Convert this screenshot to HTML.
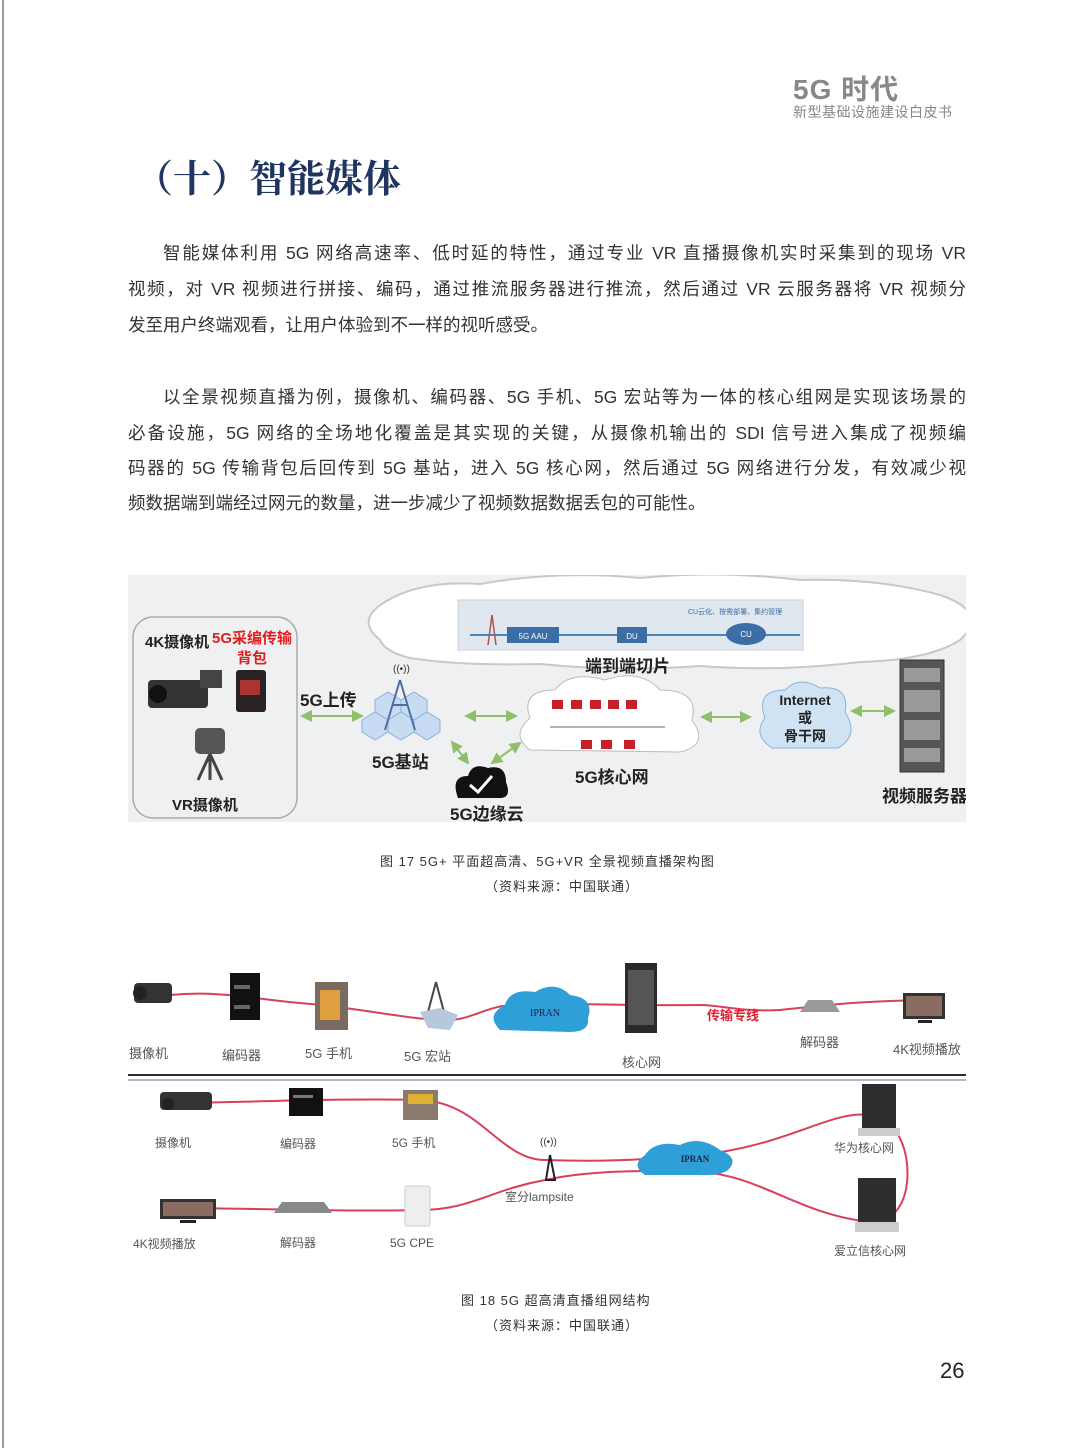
<!DOCTYPE html>
<html><head><meta charset="utf-8"><style>
body{margin:0;background:#fff}
#p{position:relative;width:1067px;height:1448px;overflow:hidden;background:#fff;font-family:"Liberation Sans","Noto Sans CJK SC",sans-serif}
.l{position:absolute;font-size:17.5px;color:#333;text-align:justify;text-align-last:justify;white-space:nowrap;height:24px;line-height:24px}
.c{position:absolute;font-size:13px;color:#333;letter-spacing:1px;white-space:nowrap}
</style></head><body><div id="p">
<div style="position:absolute;left:2px;top:0;width:2px;height:1448px;background:#999"></div>
<div style="position:absolute;left:793px;top:68px;font-size:28px;color:#888;font-weight:bold;letter-spacing:1px">5G 时代</div>
<div style="position:absolute;left:793px;top:102px;font-size:14px;color:#888;letter-spacing:0.5px">新型基础设施建设白皮书</div>
<div style="position:absolute;left:135px;top:148px;font-size:38px;color:#1f3461;font-weight:bold;font-family:'Noto Serif CJK SC','Liberation Serif',serif">（十）智能媒体</div>

<div class="l" style="left:163px;top:241px;width:803px">智能媒体利用 5G 网络高速率、低时延的特性，通过专业 VR 直播摄像机实时采集到的现场 VR</div>
<div class="l" style="left:128px;top:277px;width:838px">视频，对 VR 视频进行拼接、编码，通过推流服务器进行推流，然后通过 VR 云服务器将 VR 视频分</div>
<div class="l" style="left:128px;top:313px;text-align-last:left">发至用户终端观看，让用户体验到不一样的视听感受。</div>
<div class="l" style="left:163px;top:385px;width:803px">以全景视频直播为例，摄像机、编码器、5G 手机、5G 宏站等为一体的核心组网是实现该场景的</div>
<div class="l" style="left:128px;top:421px;width:838px">必备设施，5G 网络的全场地化覆盖是其实现的关键，从摄像机输出的 SDI 信号进入集成了视频编</div>
<div class="l" style="left:128px;top:456px;width:838px">码器的 5G 传输背包后回传到 5G 基站，进入 5G 核心网，然后通过 5G 网络进行分发，有效减少视</div>
<div class="l" style="left:128px;top:491px;text-align-last:left">频数据端到端经过网元的数量，进一步减少了视频数据数据丢包的可能性。</div>

<div class="c" style="left:380px;top:851px">图 17 5G+ 平面超高清、5G+VR 全景视频直播架构图</div>
<div class="c" style="left:485px;top:876px">（资料来源：中国联通）</div>
<div class="c" style="left:461px;top:1290px">图 18 5G 超高清直播组网结构</div>
<div class="c" style="left:485px;top:1315px">（资料来源：中国联通）</div>
<div style="position:absolute;left:940px;top:1358px;font-size:22px;color:#222">26</div>

<svg width="1067" height="1448" style="position:absolute;left:0;top:0" font-family="Liberation Sans, Noto Sans CJK SC, sans-serif">
<defs><marker id="a" markerWidth="6" markerHeight="6" refX="5" refY="3" orient="auto-start-reverse"><path d="M0,0L6,3L0,6z" fill="#8fbf6a"/></marker>
<clipPath id="cl"><rect x="128" y="575" width="838" height="247"/></clipPath></defs>
<g clip-path="url(#cl)">
<rect x="128" y="575" width="838" height="247" fill="#eef0f2"/>
<path d="M380,640 Q355,620 385,602 Q420,580 480,584 Q560,570 640,578 Q720,570 800,580 Q880,578 940,595 Q990,612 960,640 Q930,660 860,662 Q780,672 700,666 Q620,672 540,664 Q460,666 410,658 Q385,652 380,640 Z" fill="#fff" stroke="#c8c8c8" stroke-width="2"/>
<rect x="458" y="600" width="345" height="50" fill="#e1e7ef" stroke="#c9d2de"/>
<line x1="470" y1="635" x2="800" y2="635" stroke="#4a86c0" stroke-width="2"/>
<path d="M488,645 L492,615 L496,645" fill="none" stroke="#a55" stroke-width="1.5"/>
<rect x="507" y="627" width="52" height="16" fill="#3a6ea5"/><text x="533" y="639" font-size="8" fill="#fff" text-anchor="middle">5G AAU</text>
<rect x="617" y="627" width="30" height="16" fill="#3a6ea5"/><text x="632" y="639" font-size="8" fill="#fff" text-anchor="middle">DU</text>
<ellipse cx="746" cy="634" rx="20" ry="11" fill="#3a6ea5"/><text x="746" y="637" font-size="8" fill="#fff" text-anchor="middle">CU</text>
<text x="688" y="614" font-size="7" fill="#3a6ea5">CU云化、按需部署、集约管理</text>
<rect x="133" y="617" width="164" height="201" rx="20" fill="none" stroke="#aaa" stroke-width="1.5"/>
<text x="145" y="647" font-size="15" font-weight="bold" fill="#222">4K摄像机</text>
<text x="212" y="643" font-size="15" font-weight="bold" fill="#e02020">5G采编传输</text>
<text x="237" y="663" font-size="15" font-weight="bold" fill="#e02020">背包</text>
<rect x="148" y="680" width="60" height="28" rx="4" fill="#333"/><rect x="200" y="670" width="22" height="18" fill="#444"/><circle cx="158" cy="694" r="9" fill="#111"/>
<rect x="236" y="670" width="30" height="42" rx="3" fill="#2a2222"/><rect x="240" y="680" width="20" height="15" fill="#a33"/>
<rect x="195" y="728" width="30" height="26" rx="5" fill="#555"/><path d="M210,754 L198,780 M210,754 L222,780 M210,754 L210,780" stroke="#444" stroke-width="3"/>
<text x="172" y="810" font-size="15" font-weight="bold" fill="#222">VR摄像机</text>
<text x="300" y="706" font-size="17" font-weight="bold" fill="#222">5G上传</text>
<line x1="302" y1="716" x2="362" y2="716" stroke="#8fbf6a" stroke-width="2" marker-start="url(#a)" marker-end="url(#a)"/>
<g fill="#c7dcf2" stroke="#8cb0d8"><polygon points="375,700 388,692 401,700 401,712 388,720 375,712"/><polygon points="401,700 414,692 427,700 427,712 414,720 401,712"/><polygon points="388,720 401,712 414,720 414,732 401,740 388,732"/><polygon points="362,720 375,712 388,720 388,732 375,740 362,732"/><polygon points="414,720 427,712 440,720 440,732 427,740 414,732"/></g>
<path d="M400,680 L385,730 M400,680 L415,730 M392,705 L408,705" stroke="#4a6fa0" stroke-width="2" fill="none"/>
<text x="393" y="672" font-size="10" fill="#333">((•))</text>
<text x="372" y="768" font-size="17" font-weight="bold" fill="#222">5G基站</text>
<line x1="466" y1="716" x2="516" y2="716" stroke="#8fbf6a" stroke-width="2" marker-start="url(#a)" marker-end="url(#a)"/>
<line x1="452" y1="742" x2="468" y2="763" stroke="#8fbf6a" stroke-width="2" marker-start="url(#a)" marker-end="url(#a)"/>
<line x1="492" y1="763" x2="520" y2="743" stroke="#8fbf6a" stroke-width="2" marker-start="url(#a)" marker-end="url(#a)"/>
<path d="M458,798 Q450,776 468,776 Q472,762 488,768 Q506,764 506,782 Q512,798 500,798 Z" fill="#111"/>
<path d="M470,785 L478,792 L492,776" stroke="#fff" stroke-width="3" fill="none"/>
<text x="450" y="820" font-size="17" font-weight="bold" fill="#222">5G边缘云</text>
<text x="585" y="672" font-size="17" font-weight="bold" fill="#222">端到端切片</text>
<path d="M530,750 Q510,735 530,718 Q520,690 555,690 Q570,670 605,680 Q640,668 660,690 Q700,690 692,720 Q710,745 680,752 Z" fill="#fff" stroke="#bbb"/>
<line x1="550" y1="727" x2="665" y2="727" stroke="#666"/>
<g fill="#c8202a"><rect x="552" y="700" width="11" height="9"/><rect x="571" y="700" width="11" height="9"/><rect x="590" y="700" width="11" height="9"/><rect x="608" y="700" width="11" height="9"/><rect x="626" y="700" width="11" height="9"/><rect x="581" y="740" width="11" height="9"/><rect x="601" y="740" width="11" height="9"/><rect x="624" y="740" width="11" height="9"/></g>
<text x="575" y="783" font-size="17" font-weight="bold" fill="#222">5G核心网</text>
<line x1="702" y1="717" x2="750" y2="717" stroke="#8fbf6a" stroke-width="2" marker-start="url(#a)" marker-end="url(#a)"/>
<path d="M772,748 Q752,735 765,718 Q755,690 785,690 Q800,675 820,688 Q850,685 845,712 Q860,735 838,748 Z" fill="#cfe3f5" stroke="#8ab4dc"/>
<text x="805" y="705" font-size="14" font-weight="bold" fill="#222" text-anchor="middle">Internet</text>
<text x="805" y="723" font-size="14" font-weight="bold" fill="#222" text-anchor="middle">或</text>
<text x="805" y="741" font-size="14" font-weight="bold" fill="#222" text-anchor="middle">骨干网</text>
<line x1="852" y1="711" x2="894" y2="711" stroke="#8fbf6a" stroke-width="2" marker-start="url(#a)" marker-end="url(#a)"/>
<rect x="900" y="660" width="44" height="112" fill="#555" stroke="#333"/>
<g fill="#999"><rect x="904" y="668" width="36" height="14"/><rect x="904" y="690" width="36" height="22"/><rect x="904" y="720" width="36" height="20"/><rect x="904" y="748" width="36" height="14"/></g>
<text x="882" y="802" font-size="17" font-weight="bold" fill="#222">视频服务器</text>
</g>

<path d="M170,995 C220,990 260,1000 300,1003 C360,1008 400,1018 440,1020 C470,1022 480,1008 510,1005 C560,1002 620,1006 700,1005 C720,1005 740,1012 780,1010 C820,1006 860,1000 945,1000" stroke="#d93f5c" stroke-width="2" fill="none"/>
<rect x="134" y="983" width="38" height="20" rx="4" fill="#333"/><circle cx="140" cy="993" r="7" fill="#222"/>
<rect x="230" y="973" width="30" height="47" fill="#111"/><rect x="234" y="985" width="16" height="4" fill="#666"/><rect x="234" y="1005" width="16" height="4" fill="#666"/>
<rect x="315" y="982" width="33" height="48" fill="#7a6a60"/><rect x="320" y="990" width="20" height="30" fill="#e0a040"/>
<path d="M436,982 L428,1012 M436,982 L444,1012" stroke="#444" stroke-width="2"/>
<path d="M420,1012 L440,1008 L458,1015 L450,1030 L428,1028 Z" fill="#b5c8dc"/>
<path d="M500,1030 Q485,1015 505,1005 Q510,988 535,992 Q555,980 570,995 Q595,998 588,1018 Q590,1032 570,1032 Z" fill="#2f9fd8"/>
<text x="545" y="1016" font-size="10" fill="#224" text-anchor="middle" font-family="Liberation Serif">IPRAN</text>
<rect x="625" y="963" width="32" height="70" fill="#2a2a2a"/><rect x="628" y="970" width="26" height="55" fill="#555"/>
<text x="707" y="1020" font-size="13" font-weight="bold" fill="#e02030">传输专线</text>
<path d="M800,1012 L808,1000 L832,1000 L840,1012 Z" fill="#999"/>
<rect x="903" y="993" width="42" height="26" fill="#333"/><rect x="906" y="996" width="36" height="20" fill="#8a6c60"/><rect x="918" y="1020" width="14" height="3" fill="#222"/>
<g font-size="13" fill="#555"><text x="129" y="1058">摄像机</text><text x="222" y="1060">编码器</text><text x="305" y="1058">5G 手机</text><text x="404" y="1061">5G 宏站</text><text x="622" y="1067">核心网</text><text x="800" y="1047">解码器</text><text x="893" y="1054">4K视频播放</text></g>
<line x1="128" y1="1075" x2="966" y2="1075" stroke="#2a2e3a" stroke-width="2"/>
<line x1="128" y1="1080" x2="966" y2="1080" stroke="#9aa0b0" stroke-width="1.5"/>

<path d="M178,1103 C260,1102 340,1098 420,1100 C480,1102 500,1160 545,1160 C600,1162 640,1160 700,1155 C790,1145 830,1110 870,1115 C920,1120 920,1230 870,1220" stroke="#d93f5c" stroke-width="2" fill="none"/>
<path d="M870,1222 C800,1215 760,1175 700,1172 C650,1170 590,1170 545,1180 C490,1190 470,1210 420,1210 C340,1212 250,1208 165,1208" stroke="#d93f5c" stroke-width="2" fill="none"/>
<rect x="160" y="1092" width="52" height="18" rx="4" fill="#333"/><circle cx="168" cy="1104" r="6" fill="#222"/>
<rect x="289" y="1088" width="34" height="28" fill="#111"/><rect x="293" y="1095" width="20" height="3" fill="#777"/>
<rect x="403" y="1090" width="35" height="30" fill="#8a7a70"/><rect x="408" y="1094" width="25" height="10" fill="#e0b030"/>
<path d="M550,1155 L546,1180 M550,1155 L555,1180 M545,1180 L556,1180" stroke="#222" stroke-width="2"/>
<text x="540" y="1145" font-size="10" fill="#333">((•))</text>
<path d="M645,1175 Q630,1165 645,1155 Q655,1140 680,1145 Q700,1135 720,1150 Q740,1158 728,1170 Q720,1176 700,1175 Z" fill="#2f9fd8"/>
<text x="695" y="1162" font-size="9" font-weight="bold" fill="#224" text-anchor="middle" font-family="Liberation Serif">IPRAN</text>
<rect x="862" y="1084" width="34" height="50" fill="#2e2e2e"/><rect x="858" y="1128" width="42" height="8" fill="#ccc"/>
<rect x="858" y="1178" width="38" height="52" fill="#2e2e2e"/><rect x="855" y="1222" width="44" height="10" fill="#ccc"/>
<rect x="160" y="1199" width="56" height="20" fill="#333"/><rect x="163" y="1202" width="50" height="14" fill="#8a6c60"/><rect x="180" y="1220" width="16" height="3" fill="#222"/>
<path d="M274,1213 L282,1202 L324,1202 L332,1213 Z" fill="#888"/>
<rect x="405" y="1186" width="25" height="40" rx="2" fill="#eee" stroke="#ccc"/>
<g font-size="12" fill="#555"><text x="155" y="1147">摄像机</text><text x="280" y="1148">编码器</text><text x="392" y="1147">5G 手机</text><text x="505" y="1201">室分lampsite</text><text x="834" y="1152">华为核心网</text><text x="133" y="1248">4K视频播放</text><text x="280" y="1247">解码器</text><text x="390" y="1247">5G CPE</text><text x="834" y="1255">爱立信核心网</text></g>
</svg>
</div></body></html>
